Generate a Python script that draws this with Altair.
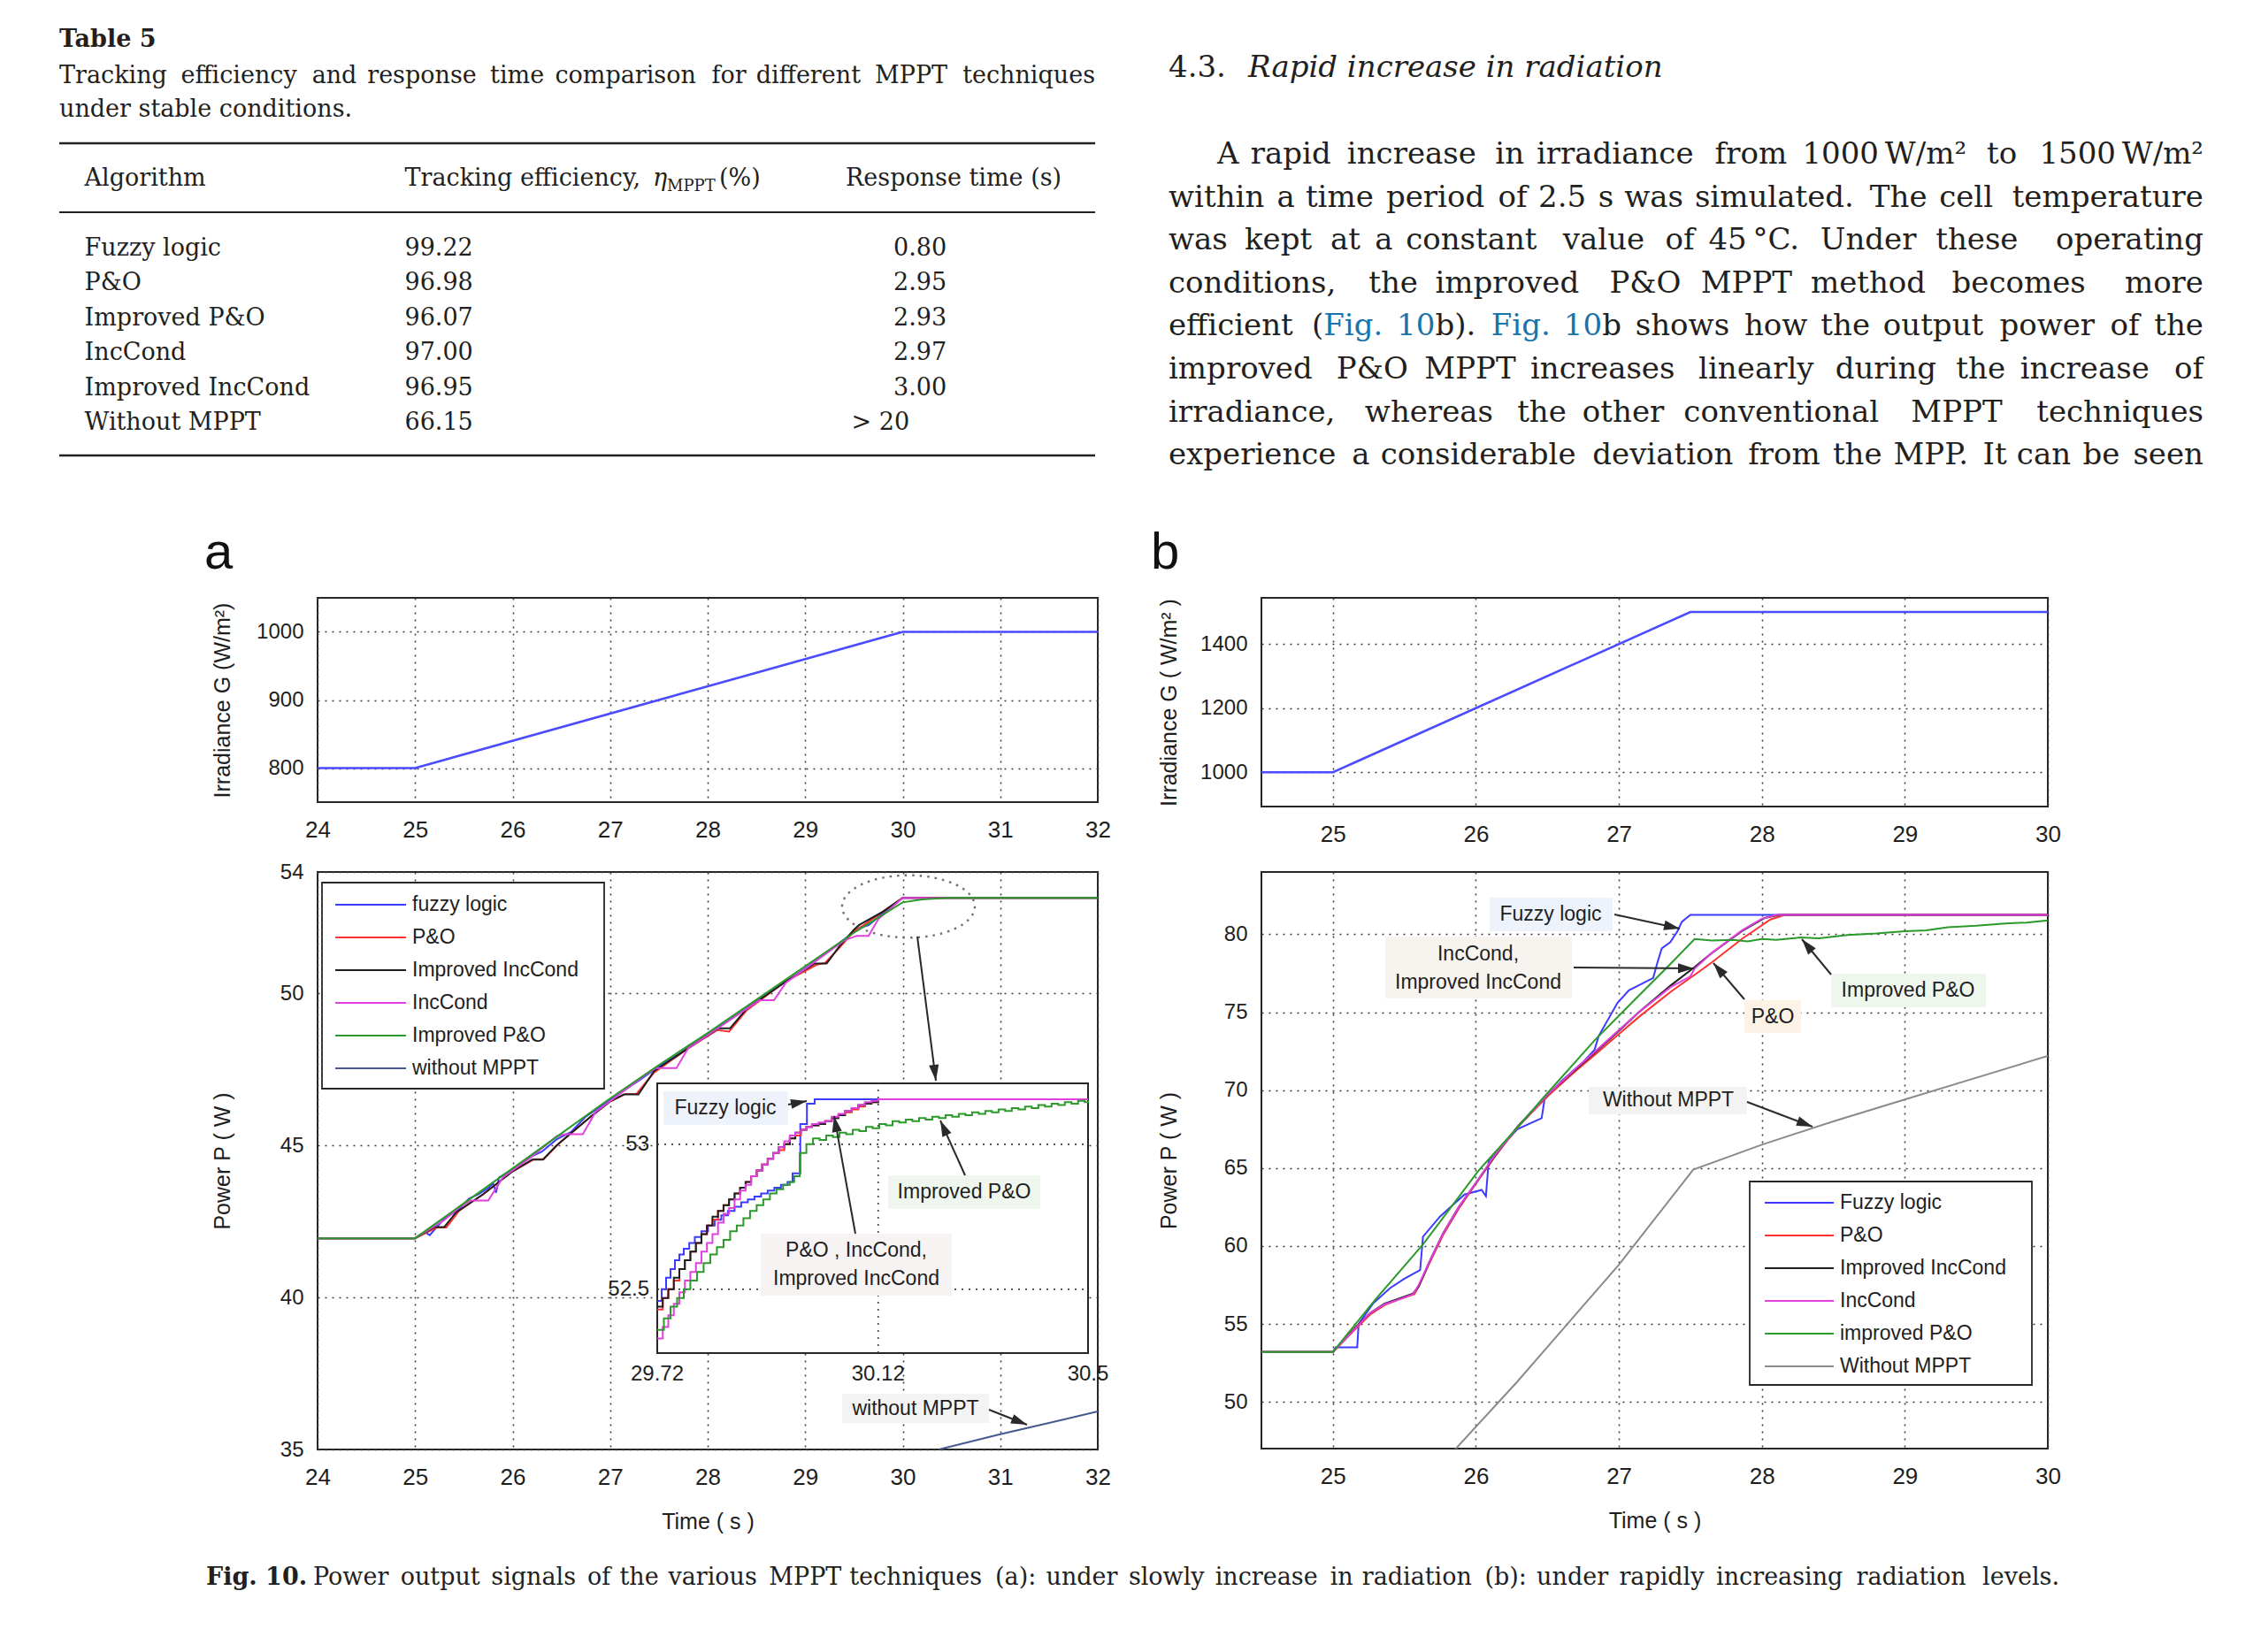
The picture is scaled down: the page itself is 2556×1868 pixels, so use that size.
import math
import re
import altair as alt
import pandas as pd

# ======================= DATA =======================
TABLE_TITLE = "Table 5"
TABLE_CAPTION = ["Tracking efficiency and response time comparison for different MPPT techniques",
                 "under stable conditions."]
TABLE_ALGORITHMS = ["Fuzzy logic", "P&O", "Improved P&O", "IncCond", "Improved IncCond", "Without MPPT"]
TABLE_EFFICIENCY = ["99.22", "96.98", "96.07", "97.00", "96.95", "66.15"]
TABLE_RESPONSE = ["0.80", "2.95", "2.93", "2.97", "3.00", "> 20"]

SECTION_NUMBER = "4.3."
SECTION_TITLE = "Rapid increase in radiation"
PARAGRAPH_LINES = [
    "A rapid increase in irradiance from 1000\u2009W/m\u00b2 to 1500\u2009W/m\u00b2",
    "within a time period of 2.5 s was simulated. The cell temperature",
    "was kept at a constant value of 45\u2009\u00b0C. Under these operating",
    "conditions, the improved P&O MPPT method becomes more",
    "efficient ({Fig.} {10}b). {Fig.} {10}b shows how the output power of the",
    "improved P&O MPPT increases linearly during the increase of",
    "irradiance, whereas the other conventional MPPT techniques",
    "experience a considerable deviation from the MPP. It can be seen",
]
FIG_CAPTION_LEAD = "Fig. 10."
FIG_CAPTION = ("Power output signals of the various MPPT techniques (a): under slowly increase in "
               "radiation (b): under rapidly increasing radiation levels.")

# irradiance profiles
IRR_A_T = [24, 25, 30, 32]
IRR_A_G = [800, 800, 1000, 1000]
IRR_B_T = [24.5, 25, 27.5, 30]
IRR_B_G = [1000, 1000, 1500, 1500]

# ---- panel a : power (W) vs time (s) ----
A_FUZZY_T = [24, 25, 25.1, 25.15, 25.3, 25.45, 25.55, 25.65, 25.75, 25.8, 25.83, 25.86, 26.0, 26.2, 26.3, 26.45,
             26.6, 26.75, 27.0, 27.3, 27.5, 27.7, 28.0, 28.3, 28.6, 28.9, 29.2, 29.45, 29.55, 29.65, 29.8, 30.0, 32]
A_FUZZY_P = [41.95, 41.95, 42.15, 42.05, 42.6, 42.9, 43.25, 43.4, 43.6, 43.75, 43.45, 43.95, 44.2, 44.65, 44.8, 45.2,
             45.45, 45.95, 46.5, 47.15, 47.6, 48.0, 48.65, 49.3, 49.95, 50.6, 51.3, 51.9, 52.15, 52.25, 52.65, 53.15,
             53.15]
A_PO_T = [24, 25, 25.22, 25.32, 25.45, 25.7, 26.0, 26.22, 26.32, 26.47, 26.8, 27.0, 27.16, 27.27, 27.45, 27.8, 28.1,
          28.22, 28.4, 28.8, 29.12, 29.2, 29.35, 29.5, 29.6, 29.8, 30.0, 32]
A_PO_P = [41.95, 41.95, 42.3, 42.3, 42.85, 43.4, 44.15, 44.55, 44.55, 45.05, 45.95, 46.45, 46.7, 46.7, 47.4, 48.2,
          48.8, 48.75, 49.45, 50.4, 50.95, 51.0, 51.5, 52.05, 52.25, 52.7, 53.15, 53.15]
A_IIC_T = [24, 25, 25.2, 25.3, 25.42, 25.7, 26.0, 26.2, 26.31, 26.45, 26.8, 27.0, 27.14, 27.29, 27.45, 27.8, 28.11,
           28.23, 28.4, 28.8, 29.1, 29.22, 29.35, 29.5, 29.55, 29.8, 30.0, 32]
A_IIC_P = [41.95, 41.95, 42.32, 42.32, 42.8, 43.4, 44.15, 44.54, 44.54, 45.0, 45.95, 46.45, 46.68, 46.68, 47.45, 48.2,
           48.86, 48.86, 49.5, 50.4, 50.99, 50.99, 51.55, 52.1, 52.25, 52.7, 53.15, 53.15]
A_IC_T = [24, 25, 25.3, 25.45, 25.57, 25.75, 25.9, 26.2, 26.45, 26.54, 26.72, 26.85, 27.1, 27.35, 27.47, 27.68, 27.8,
          28.1, 28.4, 28.53, 28.68, 28.8, 29.1, 29.4, 29.53, 29.65, 29.75, 30.0, 32]
A_IC_P = [41.95, 41.95, 42.55, 42.95, 43.19, 43.19, 43.95, 44.65, 45.3, 45.37, 45.37, 46.1, 46.7, 47.3, 47.55, 47.55,
          48.2, 48.85, 49.5, 49.78, 49.78, 50.35, 51.05, 51.75, 51.9, 51.9, 52.45, 53.15, 53.15]
A_IPO_T = [24, 25, 25.5, 26.0, 26.5, 27.0, 27.5, 28.0, 28.5, 29.0, 29.5, 29.8, 30.0, 30.2, 30.45, 32]
A_IPO_P = [41.95, 41.95, 43.1, 44.25, 45.4, 46.55, 47.65, 48.7, 49.8, 50.9, 52.0, 52.6, 53.0, 53.1, 53.15, 53.15]
A_WO_T = [30.37, 31.0, 31.5, 32.0]
A_WO_P = [35.0, 35.5, 35.87, 36.25]

# ---- panel a inset (zoom 29.72 .. 30.5 s) ----
A_IN_FUZZY_T = [29.72, 29.728, 29.736, 29.744, 29.752, 29.76, 29.768, 29.778, 29.788, 29.8, 29.812, 29.824, 29.836,
                29.848, 29.86, 29.872, 29.884, 29.896, 29.908, 29.92, 29.932, 29.944, 29.956, 29.965, 29.979, 29.991,
                30.005, 30.5]
A_IN_FUZZY_P = [52.46, 52.5, 52.54, 52.57, 52.6, 52.62, 52.64, 52.66, 52.68, 52.7, 52.72, 52.74, 52.755, 52.77,
                52.785, 52.8, 52.81, 52.82, 52.83, 52.84, 52.85, 52.86, 52.87, 52.9, 53.07, 53.14, 53.155, 53.155]
A_IN_T = [29.72, 29.73, 29.74, 29.75, 29.76, 29.77, 29.78, 29.79, 29.80, 29.81, 29.82, 29.83, 29.84, 29.85, 29.86,
          29.87, 29.88, 29.89, 29.90, 29.91, 29.92, 29.93, 29.94, 29.95, 29.96, 29.97, 29.98, 29.99, 30.00, 30.012,
          30.024, 30.036, 30.048, 30.06, 30.072, 30.084, 30.096, 30.108, 30.12, 30.5]
A_IN_IIC_P = [52.44, 52.47, 52.50, 52.54, 52.57, 52.60, 52.63, 52.66, 52.69, 52.72, 52.75, 52.77, 52.79, 52.81, 52.83,
              52.85, 52.87, 52.89, 52.91, 52.93, 52.95, 52.97, 52.99, 53.00, 53.02, 53.04, 53.05, 53.06, 53.065, 53.07,
              53.08, 53.09, 53.10, 53.115, 53.125, 53.135, 53.14, 53.145, 53.155, 53.155]
A_IN_PO_P = [52.43, 52.47, 52.50, 52.53, 52.57, 52.60, 52.63, 52.66, 52.69, 52.72, 52.74, 52.77, 52.79, 52.81, 52.83,
             52.85, 52.87, 52.89, 52.91, 52.93, 52.95, 52.97, 52.98, 53.00, 53.02, 53.03, 53.05, 53.06, 53.065, 53.07,
             53.08, 53.09, 53.10, 53.11, 53.12, 53.13, 53.14, 53.145, 53.155, 53.155]
A_IN_IC_P = [52.33, 52.37, 52.41, 52.45, 52.49, 52.53, 52.56, 52.59, 52.63, 52.66, 52.69, 52.73, 52.76, 52.78, 52.81,
             52.84, 52.86, 52.89, 52.91, 52.93, 52.95, 52.97, 52.99, 53.01, 53.03, 53.04, 53.05, 53.06, 53.07, 53.075,
             53.08, 53.095, 53.105, 53.115, 53.125, 53.135, 53.145, 53.15, 53.155, 53.155]
A_IN_IPO_T = [29.72, 29.732, 29.744, 29.756, 29.768, 29.78, 29.792, 29.804, 29.816, 29.828, 29.84, 29.852, 29.864,
              29.876, 29.888, 29.9, 29.912, 29.924, 29.936, 29.948, 29.96, 29.968, 29.978, 29.99, 30.002, 30.014,
              30.026, 30.038, 30.05, 30.062, 30.074, 30.086, 30.098, 30.11, 30.122, 30.134, 30.146, 30.158, 30.17,
              30.182, 30.194, 30.206, 30.218, 30.23, 30.242, 30.254, 30.266, 30.278, 30.29, 30.302, 30.314, 30.326,
              30.338, 30.35, 30.362, 30.374, 30.386, 30.398, 30.41, 30.422, 30.434, 30.446, 30.458, 30.47, 30.482,
              30.494, 30.5]
A_IN_IPO_P = [52.36, 52.40, 52.44, 52.47, 52.50, 52.53, 52.56, 52.59, 52.62, 52.645, 52.67, 52.70, 52.72, 52.745,
              52.77, 52.79, 52.81, 52.83, 52.845, 52.86, 52.87, 52.89, 52.97, 53.00, 53.02, 53.015, 53.03, 53.025,
              53.04, 53.035, 53.05, 53.045, 53.06, 53.055, 53.07, 53.065, 53.08, 53.075, 53.085, 53.08, 53.09, 53.085,
              53.095, 53.09, 53.10, 53.095, 53.105, 53.10, 53.11, 53.105, 53.115, 53.11, 53.12, 53.115, 53.125, 53.12,
              53.13, 53.125, 53.135, 53.13, 53.14, 53.135, 53.145, 53.14, 53.15, 53.145, 53.15]

# ---- panel b : power (W) vs time (s) ----
B_FUZZY_T = [24.5, 25.0, 25.02, 25.17, 25.18, 25.28, 25.4, 25.5, 25.61, 25.63, 25.75, 25.92, 26.04, 26.07, 26.09,
             26.29, 26.46, 26.48, 26.6, 26.75, 26.83, 26.86, 26.99, 27.07, 27.24, 27.27, 27.3, 27.36, 27.41, 27.44,
             27.5, 30.0]
B_FUZZY_P = [53.2, 53.2, 53.5, 53.5, 55.0, 56.3, 57.3, 57.9, 58.45, 60.6, 61.9, 63.3, 63.6, 63.2, 65.5, 67.5, 68.2,
             69.4, 70.6, 71.8, 72.6, 73.5, 75.6, 76.4, 77.2, 78.2, 79.1, 79.5, 80.2, 80.8, 81.25, 81.25]
B_PO_T = [24.5, 25.0, 25.15, 25.26, 25.36, 25.47, 25.57, 25.61, 25.67, 25.77, 25.88, 26.0, 26.13, 26.29, 26.5, 26.7,
          26.83, 27.0, 27.14, 27.36, 27.53, 27.65, 27.86, 28.06, 28.16, 30.0]
B_PO_P = [53.2, 53.2, 54.6, 55.6, 56.2, 56.6, 56.9, 57.6, 58.8, 60.7, 62.4, 64.0, 65.7, 67.6, 69.6, 71.25, 72.25,
          73.6, 74.7, 76.3, 77.4, 78.2, 79.7, 80.95, 81.25, 81.25]
B_IIC_T = [24.5, 25.0, 25.16, 25.26, 25.36, 25.47, 25.56, 25.6, 25.67, 25.77, 25.88, 26.0, 26.13, 26.29, 26.5, 26.7,
           26.83, 27.0, 27.14, 27.36, 27.53, 27.65, 27.86, 28.02, 28.12, 30.0]
B_IIC_P = [53.2, 53.2, 54.8, 55.7, 56.3, 56.65, 56.95, 57.4, 58.9, 60.8, 62.5, 64.05, 65.75, 67.65, 69.7, 71.35, 72.4,
           73.8, 75.0, 76.7, 77.9, 78.8, 80.2, 81.05, 81.25, 81.25]
B_IC_T = [24.5, 25.0, 25.16, 25.26, 25.36, 25.47, 25.56, 25.6, 25.67, 25.77, 25.88, 26.0, 26.13, 26.29, 26.5, 26.7,
          26.83, 27.0, 27.14, 27.36, 27.5, 27.53, 27.65, 27.86, 28.0, 28.1, 30.0]
B_IC_P = [53.2, 53.2, 54.75, 55.7, 56.25, 56.6, 56.9, 57.5, 58.9, 60.8, 62.5, 64.05, 65.8, 67.6, 69.7, 71.4, 72.45,
          73.85, 75.0, 76.6, 77.3, 77.8, 78.8, 80.25, 81.0, 81.25, 81.25]
B_IPO_T = [24.5, 25.0, 25.3, 25.63, 26.02, 26.3, 26.48, 26.83, 27.1, 27.35, 27.53, 27.65, 27.8, 27.9, 28.0, 28.1,
           28.27, 28.4, 28.6, 28.8, 29.0, 29.15, 29.3, 29.5, 29.7, 29.85, 30.0]
B_IPO_P = [53.2, 53.2, 56.6, 60.1, 64.85, 67.7, 69.6, 73.2, 75.7, 78.0, 79.7, 79.6, 79.65, 79.55, 79.7, 79.65, 79.8,
           79.75, 79.95, 80.05, 80.2, 80.25, 80.45, 80.55, 80.7, 80.75, 80.9]
B_WO_T = [25.82, 26.29, 27.0, 27.52, 28.0, 28.5, 29.0, 29.5, 30.0]
B_WO_P = [46.6, 51.3, 58.8, 64.9, 66.5, 68.0, 69.4, 70.8, 72.2]

SERIES_A = ["fuzzy logic", "P&O", "Improved IncCond", "IncCond", "Improved P&O", "without MPPT"]
SERIES_B = ["Fuzzy logic", "P&O", "Improved IncCond", "IncCond", "improved P&O", "Without MPPT"]
SERIES_COLORS = {
    "fuzzy logic": "#3b3bff", "Fuzzy logic": "#3b3bff", "P&O": "#ff3030",
    "Improved IncCond": "#1e1e1e", "IncCond": "#e040e0", "Improved P&O": "#2a9a2a",
    "improved P&O": "#2a9a2a", "without MPPT": "#46598f", "Without MPPT": "#8a8a8a",
}

# ======================= STYLE / LAYOUT =======================
INK = "#231f20"
LINK = "#1a74ab"
FIG_INK = "#1e1e1e"
SERIF = "DejaVu Serif"
SANS = "Liberation Sans"

A_LEFT, TOP_Y = 357, 674
A_W, B_W = 882, 889
TOP_A_H, TOP_B_H = 231, 236
BOT_A_H, BOT_B_H = 653, 652
COL_GAP, ROW_GAP = 185, 74
B_LEFT = A_LEFT + A_W + COL_GAP
BOT_A_Y = TOP_Y + max(TOP_A_H, TOP_B_H) + ROW_GAP
BOT_B_Y = BOT_A_Y

COLOR_SCALE = alt.Scale(domain=list(SERIES_COLORS.keys()), range=list(SERIES_COLORS.values()))

CW = {" ": 0.32, ".": 0.32, ",": 0.32, "(": 0.39, ")": 0.39, "/": 0.34, "\u00b2": 0.40, "\u00b0": 0.50,
      "&": 0.89, "%": 0.95, ":": 0.34, ">": 0.84, "\u2009": 0.17, "a": 0.60, "b": 0.64, "c": 0.56, "d": 0.64,
      "e": 0.59, "f": 0.37, "g": 0.64, "h": 0.64, "i": 0.32, "j": 0.32, "k": 0.60, "l": 0.32, "m": 0.95,
      "n": 0.64, "o": 0.60, "p": 0.64, "q": 0.64, "r": 0.48, "s": 0.51, "t": 0.40, "u": 0.64, "v": 0.57,
      "w": 0.83, "x": 0.57, "y": 0.57, "z": 0.53, "I": 0.37, "M": 0.87, "W": 1.0, "P": 0.68, "T": 0.67,
      "O": 0.79, "C": 0.73, "A": 0.72, "F": 0.67, "U": 0.76}


def unit_width(s):
    tot = 0.0
    for ch in s:
        if ch in CW:
            tot += CW[ch]
        elif ch.isupper():
            tot += 0.72
        elif ch.isdigit():
            tot += 0.64
        else:
            tot += 0.58
    return tot


def line_k(line, left, right):
    words = line.split(" ")
    clean = [w.replace("{", "").replace("}", "") for w in words]
    total = sum(unit_width(c) for c in clean) + CW[" "] * (len(words) - 1)
    return (right - left) / total


def parse_word(word):
    segs = []
    for part in re.split(r"(\{[^}]*\})", word):
        if not part:
            continue
        if part.startswith("{"):
            segs.append((part[1:-1], True))
        else:
            segs.append((part, False))
    return segs


def justified(line, left, right, y, size, font=SERIF):
    words = line.split(" ")
    clean = [w.replace("{", "").replace("}", "") for w in words]
    widths = [unit_width(c) for c in clean]
    k = line_k(line, left, right)
    out = []
    cum = 0.0
    for i, w in enumerate(words):
        x0 = left + cum * k
        segs = parse_word(w)
        if i == len(words) - 1 and len(segs) == 1 and i > 0:
            out.append(dict(x=right, y=y, text=segs[0][0], font=font, size=size, align="right",
                            color=LINK if segs[0][1] else INK))
        else:
            sub = 0.0
            for t, lk in segs:
                out.append(dict(x=x0 + sub * size, y=y, text=t, font=font, size=size,
                                color=LINK if lk else INK))
                sub += unit_width(t)
        cum += widths[i] + CW[" "]
    return out


def text_layers(items, origin):
    groups = {}
    for it in items:
        key = (it["font"], it["size"], it.get("weight", "normal"), it.get("style", "normal"),
               it.get("color", INK), it.get("align", "left"), it.get("baseline", "alphabetic"))
        groups.setdefault(key, []).append(it)
    layers = []
    for (font, size, weight, style, color, align, baseline), its in groups.items():
        df = pd.DataFrame({"px": [i["x"] - origin[0] for i in its],
                           "py": [i["y"] - origin[1] for i in its],
                           "text": [i["text"] for i in its]})
        layers.append(alt.Chart(df).mark_text(font=font, fontSize=size, fontWeight=weight, fontStyle=style,
                                              color=color, align=align, baseline=baseline).encode(
            x=alt.X("px:Q", scale=None, axis=None), y=alt.Y("py:Q", scale=None, axis=None), text="text:N"))
    return layers


def rule_layer(rows, origin, color, width, dash=None):
    df = pd.DataFrame(rows, columns=["x1", "y1", "x2", "y2"])
    df["x1"] -= origin[0]; df["x2"] -= origin[0]
    df["y1"] -= origin[1]; df["y2"] -= origin[1]
    kw = dict(color=color, strokeWidth=width)
    if dash:
        kw["strokeDash"] = dash
    return alt.Chart(df).mark_rule(**kw).encode(
        x=alt.X("x1:Q", scale=None, axis=None), x2="x2:Q",
        y=alt.Y("y1:Q", scale=None, axis=None), y2="y2:Q")


def rect_layer(rows, origin, fill, stroke=None, width=0):
    df = pd.DataFrame(rows, columns=["x1", "y1", "x2", "y2"])
    df["x1"] -= origin[0]; df["x2"] -= origin[0]
    df["y1"] -= origin[1]; df["y2"] -= origin[1]
    kw = dict(fill=fill, opacity=1)
    if stroke:
        kw.update(stroke=stroke, strokeWidth=width)
    return alt.Chart(df).mark_rect(**kw).encode(
        x=alt.X("x1:Q", scale=None, axis=None), x2="x2:Q",
        y=alt.Y("y1:Q", scale=None, axis=None), y2="y2:Q")


ARROW = "M0,0L-2,-0.62L-2,0.62Z"
ELLIPSE = "M-1,0A1,0.47,0,1,1,1,0A1,0.47,0,1,1,-1,0Z"


def arrow_layers(arrows, origin):
    lines = rule_layer(arrows, origin, "#2a2a2a", 2)
    heads = pd.DataFrame({
        "px": [a[2] - origin[0] for a in arrows],
        "py": [a[3] - origin[1] for a in arrows],
        "ang": [math.degrees(math.atan2(a[3] - a[1], a[2] - a[0])) % 360 for a in arrows]})
    head = alt.Chart(heads).mark_point(shape=ARROW, filled=True, size=324, color="#2a2a2a", opacity=1).encode(
        x=alt.X("px:Q", scale=None, axis=None), y=alt.Y("py:Q", scale=None, axis=None),
        angle=alt.Angle("ang:Q", scale=None))
    return [lines, head]


def axis(values, fsize, pad, title=None, tx=None, ty=None):
    kw = dict(values=values, format="d", grid=True, gridDash=[2, 6], gridColor="#3c3c3c", gridWidth=1.6,
              gridOpacity=1, domain=False, ticks=False, labelPadding=pad, labelFontSize=fsize,
              labelColor=FIG_INK, labelFlush=False, labelOverlap=False)
    if title is None:
        kw["title"] = None
    else:
        kw.update(title=title, titleFontSize=25, titleFontWeight="normal", titleColor=FIG_INK,
                  titleX=tx, titleY=ty, titleBaseline="alphabetic")
    return alt.Axis(**kw)


def series_layers(series, xs, ys, xa, ya, interp="linear", sw=2.0):
    out = []
    for name, T, P in series:
        df = pd.DataFrame({"t": T, "p": P, "series": name})
        out.append(alt.Chart(df).mark_line(strokeWidth=sw, clip=True, interpolate=interp).encode(
            x=alt.X("t:Q", scale=xs, axis=xa), y=alt.Y("p:Q", scale=ys, axis=ya),
            color=alt.Color("series:N", scale=COLOR_SCALE, legend=None)))
    return out


# ======================= PAGE TEXT (table, paragraph, caption) =======================
TAB_SIZE = min(27, 0.97 * line_k(TABLE_CAPTION[0], 65, 1236))
PAR_EDGES = [(1374, 2489)] + [(1319, 2489)] * 7
PAR_SIZE = min(34, 0.97 * min(line_k(l, a, b) for l, (a, b) in zip(PARAGRAPH_LINES, PAR_EDGES)))
CAP_SIZE = min(27, 0.99 * line_k(FIG_CAPTION, 352, 2326))

page_items = []
page_items.append(dict(x=65, y=51, text=TABLE_TITLE, font=SERIF, size=TAB_SIZE, weight="bold"))
page_items += justified(TABLE_CAPTION[0], 65, 1236, 92, TAB_SIZE)
page_items.append(dict(x=65, y=130, text=TABLE_CAPTION[1], font=SERIF, size=TAB_SIZE))
HEAD_Y = 208
page_items += [dict(x=93.6, y=HEAD_Y, text="Algorithm", font=SERIF, size=TAB_SIZE),
               dict(x=455.5, y=HEAD_Y, text="Tracking efficiency,", font=SERIF, size=TAB_SIZE),
               dict(x=736, y=HEAD_Y, text="\u03b7", font=SERIF, size=TAB_SIZE, style="italic"),
               dict(x=752, y=HEAD_Y + 6, text="MPPT", font=SERIF, size=18),
               dict(x=811, y=HEAD_Y, text="(%)", font=SERIF, size=TAB_SIZE),
               dict(x=954, y=HEAD_Y, text="Response time (s)", font=SERIF, size=TAB_SIZE)]
ROW_Y0, ROW_STEP = 287, 39.4
for i, (alg, eff, resp) in enumerate(zip(TABLE_ALGORITHMS, TABLE_EFFICIENCY, TABLE_RESPONSE)):
    y = ROW_Y0 + i * ROW_STEP
    page_items.append(dict(x=93.6, y=y, text=alg, font=SERIF, size=TAB_SIZE))
    page_items.append(dict(x=455.5, y=y, text=eff, font=SERIF, size=TAB_SIZE))
    page_items.append(dict(x=960.5 if resp.startswith(">") else 1008, y=y, text=resp, font=SERIF, size=TAB_SIZE))

page_items.append(dict(x=1319, y=85, text=SECTION_NUMBER, font=SERIF, size=PAR_SIZE))
page_items.append(dict(x=1409, y=85, text=SECTION_TITLE, font=SERIF, size=PAR_SIZE, style="italic"))
PAR_Y0, PAR_STEP = 183, 48.6
for i, (line, (l, r)) in enumerate(zip(PARAGRAPH_LINES, PAR_EDGES)):
    page_items += justified(line, l, r, PAR_Y0 + i * PAR_STEP, PAR_SIZE)

page_items.append(dict(x=231, y=1790, text=FIG_CAPTION_LEAD, font=SERIF, size=CAP_SIZE, weight="bold"))
page_items += justified(FIG_CAPTION, 352, 2326, 1790, CAP_SIZE)
page_items.append(dict(x=229, y=641, text="a", font=SANS, size=58, color="#111111"))
page_items.append(dict(x=1299, y=641, text="b", font=SANS, size=58, color="#111111"))

ORIG_TOP_A = (A_LEFT, TOP_Y)
page_group = alt.layer(
    rule_layer([(8, 8, 10, 8)], ORIG_TOP_A, "#ffffff", 1),
    rule_layer([(65, 160, 1236, 160), (65, 513, 1236, 513)], ORIG_TOP_A, INK, 2.6),
    rule_layer([(65, 238, 1236, 238)], ORIG_TOP_A, INK, 1.8),
    *text_layers(page_items, ORIG_TOP_A))

# ======================= PANEL a =======================
XA = alt.Scale(domain=[24, 32], nice=False, zero=False)
irr_a = alt.Chart(pd.DataFrame({"t": IRR_A_T, "g": IRR_A_G})).mark_line(color="#4b4bff", strokeWidth=2.6).encode(
    x=alt.X("t:Q", scale=XA, axis=axis(list(range(24, 33)), 26, 18)),
    y=alt.Y("g:Q", scale=alt.Scale(domain=[750, 1050], nice=False, zero=False),
            axis=axis([800, 900, 1000], 24, 16, "Irradiance G (W/m\u00b2)", -100, TOP_A_H / 2)))
top_a = alt.layer(irr_a, page_group).resolve_scale(x="independent", y="independent").properties(
    width=A_W, height=TOP_A_H)

YA = alt.Scale(domain=[35, 54], nice=False, zero=False)
xa_ax = axis(list(range(24, 33)), 26, 18, "Time ( s )", A_W / 2, 89)
ya_ax = axis([35, 40, 45, 50, 54], 24, 16, "Power P ( W )", -100, BOT_A_H / 2)
main_a = alt.layer(*series_layers(
    [("without MPPT", A_WO_T, A_WO_P), ("fuzzy logic", A_FUZZY_T, A_FUZZY_P), ("P&O", A_PO_T, A_PO_P),
     ("Improved IncCond", A_IIC_T, A_IIC_P), ("IncCond", A_IC_T, A_IC_P), ("Improved P&O", A_IPO_T, A_IPO_P)],
    XA, YA, xa_ax, ya_ax))

# inset
IN_XD = [29.72, 30.5]
IN_YD = [52.28, 53.21]
IN_X = alt.Scale(domain=IN_XD, range=[741 - A_LEFT, 1228 - A_LEFT], nice=False, zero=False)
IN_Y = alt.Scale(domain=IN_YD, range=[1528 - BOT_A_Y, 1223 - BOT_A_Y], nice=False, zero=False)
IN_XTICKS = [29.72, 30.12, 30.5]
IN_YTICKS = [52.5, 53.0]
IN_YLABELS = ["52.5", "53"]


def in_enc(xf, yf, **extra):
    return dict(x=alt.X(xf, scale=IN_X, axis=None), y=alt.Y(yf, scale=IN_Y, axis=None), **extra)


inset_frame = alt.Chart(pd.DataFrame({"x": [IN_XD[0]], "x2": [IN_XD[1]], "y": [IN_YD[0]], "y2": [IN_YD[1]]})) \
    .mark_rect(fill="white", stroke="#262626", strokeWidth=2, opacity=1).encode(
    **in_enc("x:Q", "y:Q", x2="x2:Q", y2="y2:Q"))
inset_vgrid = alt.Chart(pd.DataFrame({"x": [IN_XTICKS[1]], "y": [IN_YD[0]], "y2": [IN_YD[1]]})) \
    .mark_rule(color="#3c3c3c", strokeWidth=1.6, strokeDash=[2, 6]).encode(**in_enc("x:Q", "y:Q", y2="y2:Q"))
inset_hgrid = alt.Chart(pd.DataFrame({"y": IN_YTICKS, "x": [IN_XD[0]] * 2, "x2": [IN_XD[1]] * 2})) \
    .mark_rule(color="#3c3c3c", strokeWidth=1.6, strokeDash=[2, 6]).encode(**in_enc("x:Q", "y:Q", x2="x2:Q"))
inset_ylab = alt.Chart(pd.DataFrame({"x": [IN_XD[0]] * 2, "y": IN_YTICKS, "txt": IN_YLABELS})) \
    .mark_text(font=SANS, fontSize=24, align="right", baseline="middle", dx=-9, color=FIG_INK).encode(
    **in_enc("x:Q", "y:Q", text="txt:N"))
inset_xlab = alt.Chart(pd.DataFrame({"x": IN_XTICKS, "y": [IN_YD[0]] * 3, "txt": ["29.72", "30.12", "30.5"]})) \
    .mark_text(font=SANS, fontSize=24, align="center", baseline="top", dy=12, color=FIG_INK).encode(
    **in_enc("x:Q", "y:Q", text="txt:N"))
inset_a = alt.layer(inset_frame, inset_vgrid, inset_hgrid, *series_layers(
    [("fuzzy logic", A_IN_FUZZY_T, A_IN_FUZZY_P), ("P&O", A_IN_T, A_IN_PO_P),
     ("Improved IncCond", A_IN_T, A_IN_IIC_P), ("IncCond", A_IN_T, A_IN_IC_P),
     ("Improved P&O", A_IN_IPO_T, A_IN_IPO_P)], IN_X, IN_Y, None, None, interp="step-after"),
    inset_ylab, inset_xlab)

# annotations + legend for panel a (page pixel coordinates)
ORIG_BOT_A = (A_LEFT, BOT_A_Y)
LEG_A_ROWS = [1021 + 37 * i for i in range(6)]
leg_a_df = pd.DataFrame({"x1": [377 - A_LEFT] * 6, "x2": [457 - A_LEFT] * 6,
                         "y": [y - BOT_A_Y for y in LEG_A_ROWS], "series": SERIES_A})
leg_a_lines = alt.Chart(leg_a_df).mark_rule(strokeWidth=2.2).encode(
    x=alt.X("x1:Q", scale=None, axis=None), x2="x2:Q", y=alt.Y("y:Q", scale=None, axis=None),
    color=alt.Color("series:N", scale=COLOR_SCALE, legend=None))
annot_a_items = [dict(x=464, y=y, text=n, font=SANS, size=23, color=FIG_INK, baseline="middle")
                 for n, y in zip(SERIES_A, LEG_A_ROWS)]
annot_a_items += [dict(x=x, y=y, text=t, font=SANS, size=23, color=FIG_INK, align="center", baseline="middle")
                  for x, y, t in [(818, 1251, "Fuzzy logic"), (1088, 1346, "Improved P&O"),
                                  (966, 1412, "P&O , IncCond,"), (966, 1444, "Improved IncCond"),
                                  (1033, 1591, "without MPPT")]]
ellipse_a = alt.Chart(pd.DataFrame({"px": [1025 - A_LEFT], "py": [1023 - BOT_A_Y]})).mark_point(
    shape=ELLIPSE, filled=False, size=22500, color="#707070", strokeWidth=2.4, strokeDash=[2.5, 6], opacity=1).encode(
    x=alt.X("px:Q", scale=None, axis=None), y=alt.Y("py:Q", scale=None, axis=None))
annot_a = alt.layer(
    rect_layer([(362, 996, 681, 1229)], ORIG_BOT_A, "white", "#262626", 1.8),
    rect_layer([(748, 1232, 889, 1270)], ORIG_BOT_A, "#eef3fb"),
    rect_layer([(1002, 1327, 1174, 1365)], ORIG_BOT_A, "#eef6ee"),
    rect_layer([(858, 1393, 1074, 1463)], ORIG_BOT_A, "#f8f3f3"),
    rect_layer([(950, 1574, 1116, 1607)], ORIG_BOT_A, "#f3f3f3"),
    leg_a_lines, ellipse_a,
    *arrow_layers([(889, 1247, 910, 1243), (1089, 1327, 1061, 1265), (965, 1393, 941, 1260),
                   (1035, 1057, 1056, 1220), (1116, 1592, 1159, 1609)], ORIG_BOT_A),
    *text_layers(annot_a_items, ORIG_BOT_A))

bottom_a = alt.layer(main_a, inset_a, annot_a).resolve_scale(x="independent", y="independent").properties(
    width=A_W, height=BOT_A_H)

# ======================= PANEL b =======================
XB = alt.Scale(domain=[24.5, 30], nice=False, zero=False)
irr_b = alt.Chart(pd.DataFrame({"t": IRR_B_T, "g": IRR_B_G})).mark_line(color="#4b4bff", strokeWidth=2.6).encode(
    x=alt.X("t:Q", scale=XB, axis=axis(list(range(25, 31)), 26, 18)),
    y=alt.Y("g:Q", scale=alt.Scale(domain=[893, 1544], nice=False, zero=False),
            axis=axis([1000, 1200, 1400], 24, 16, "Irradiance G ( W/m\u00b2 )", -97, TOP_B_H / 2)))
top_b = irr_b.properties(width=B_W, height=TOP_B_H)

YB = alt.Scale(domain=[47, 84], nice=False, zero=False)
xb_ax = axis(list(range(25, 31)), 26, 18, "Time ( s )", B_W / 2, 89)
yb_ax = axis([50, 55, 60, 65, 70, 75, 80], 24, 16, "Power P ( W )", -97, BOT_B_H / 2)
main_b = alt.layer(*series_layers(
    [("Without MPPT", B_WO_T, B_WO_P), ("Fuzzy logic", B_FUZZY_T, B_FUZZY_P), ("P&O", B_PO_T, B_PO_P),
     ("Improved IncCond", B_IIC_T, B_IIC_P), ("IncCond", B_IC_T, B_IC_P), ("improved P&O", B_IPO_T, B_IPO_P)],
    XB, YB, xb_ax, yb_ax))

ORIG_BOT_B = (B_LEFT, BOT_B_Y)
LEG_B_ROWS = [1358 + 37 * i for i in range(6)]
leg_b_df = pd.DataFrame({"x1": [1993 - B_LEFT] * 6, "x2": [2071 - B_LEFT] * 6,
                         "y": [y - BOT_B_Y for y in LEG_B_ROWS], "series": SERIES_B})
leg_b_lines = alt.Chart(leg_b_df).mark_rule(strokeWidth=2.2).encode(
    x=alt.X("x1:Q", scale=None, axis=None), x2="x2:Q", y=alt.Y("y:Q", scale=None, axis=None),
    color=alt.Color("series:N", scale=COLOR_SCALE, legend=None))
annot_b_items = [dict(x=2078, y=y, text=n, font=SANS, size=23, color=FIG_INK, baseline="middle")
                 for n, y in zip(SERIES_B, LEG_B_ROWS)]
annot_b_items += [dict(x=x, y=y, text=t, font=SANS, size=23, color=FIG_INK, align="center", baseline="middle")
                  for x, y, t in [(1751, 1032, "Fuzzy logic"), (1669, 1077, "IncCond,"),
                                  (1669, 1109, "Improved IncCond"), (2002, 1148, "P&O"),
                                  (2155, 1118, "Improved P&O"), (1884, 1242, "Without MPPT")]]
annot_b = alt.layer(
    rect_layer([(1976, 1334, 2295, 1564)], ORIG_BOT_B, "white", "#262626", 1.8),
    rect_layer([(1682, 1013, 1821, 1051)], ORIG_BOT_B, "#eef3fb"),
    rect_layer([(1564, 1057, 1775, 1127)], ORIG_BOT_B, "#f7f3ef"),
    rect_layer([(1970, 1129, 2034, 1166)], ORIG_BOT_B, "#fdf2e6"),
    rect_layer([(2068, 1099, 2243, 1137)], ORIG_BOT_B, "#eef6ee"),
    rect_layer([(1794, 1227, 1973, 1258)], ORIG_BOT_B, "#f3f3f3"),
    leg_b_lines,
    *arrow_layers([(1823, 1032, 1897, 1048), (1777, 1092, 1913, 1093), (1970, 1128, 1935, 1087),
                   (2068, 1100, 2035, 1060), (1973, 1244, 2047, 1272)], ORIG_BOT_B),
    *text_layers(annot_b_items, ORIG_BOT_B))

bottom_b = alt.layer(main_b, annot_b).resolve_scale(x="independent", y="independent").properties(
    width=B_W, height=BOT_B_H)

# ======================= ASSEMBLY =======================
chart = alt.concat(top_a, top_b, bottom_a, bottom_b, columns=2,
                   spacing={"row": ROW_GAP, "column": COL_GAP}, bounds="flush", align="each").properties(
    padding=0, background="white"
).configure_view(stroke="#262626", strokeWidth=2).configure_axis(labelFont=SANS, titleFont=SANS)

chart.save("out.html", embed_options={"renderer": "svg", "actions": False})
